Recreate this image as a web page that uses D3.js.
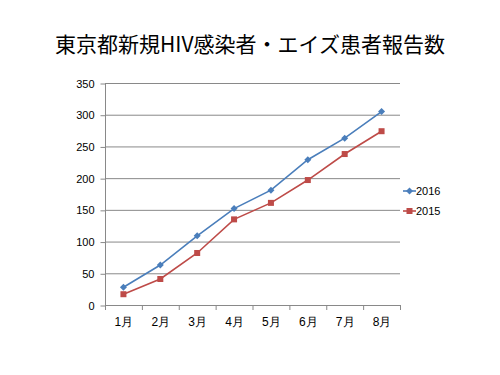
<!DOCTYPE html>
<html>
<head>
<meta charset="utf-8">
<script src="https://cdn.jsdelivr.net/npm/d3@7"></script>
<style>
  body { margin: 0; background: #fff; }
  svg { display: block; font-family: "Noto Sans CJK JP", "DejaVu Sans", sans-serif; }
</style>
</head>
<body>
<div id="chart"></div>
<script>
var months = ['1月', '2月', '3月', '4月', '5月', '6月', '7月', '8月']
var values2016 = [28, 63, 109, 152, 181, 229, 263, 305]
var values2015 = [17, 41, 82, 135, 161, 197, 238, 274]
var yTicks = [0, 50, 100, 150, 200, 250, 300, 350]

;(function() {
  var
    WIDTH = 500,
    HEIGHT = 375,
    LEFT = 105,
    RIGHT = 400,
    TOP = 83,
    BOTTOM = 305

  var series = [
    { name: '2016', values: values2016, color: '#4a7ebb', shape: 'diamond' },
    { name: '2015', values: values2015, color: '#be4b48', shape: 'square' }
  ]

  var svg = d3.select('#chart').append('svg')
    .attr('width', WIDTH)
    .attr('height', HEIGHT)

  svg.append('text')
    .text('東京都新規HIV感染者・エイズ患者報告数')
    .attr('x', 250)
    .attr('y', 52)
    .attr('text-anchor', 'middle')
    .attr('font-size', 21)
    .attr('fill', '#000')

  var x = d3.scaleBand().domain(months).range([LEFT, RIGHT])
  var y = d3.scaleLinear().domain([0, 350]).range([BOTTOM, TOP])

  // grid
  svg.append('g')
    .selectAll('line')
    .data(yTicks.filter(function(d) { return d > 0 }))
    .enter().append('line')
    .attr('x1', LEFT).attr('x2', RIGHT)
    .attr('y1', function(d) { return y(d) + .5 })
    .attr('y2', function(d) { return y(d) + .5 })
    .attr('stroke', '#898989')
    .attr('stroke-width', 1)

  var yAxis = svg.append('g')
    .attr('transform', 'translate(' + (LEFT + .5) + ',0.5)')
    .call(d3.axisLeft(y).tickValues(yTicks).tickSize(5).tickPadding(6))
  yAxis.select('.domain').attr('stroke', '#898989').attr('d', 'M0,' + TOP + 'V' + BOTTOM)
  yAxis.selectAll('.tick line').attr('stroke', '#898989')
  yAxis.selectAll('text').attr('font-size', 11).attr('fill', '#000')
    .attr('font-family', '"Liberation Sans", Arial, sans-serif')

  var xAxis = svg.append('g')
    .attr('transform', 'translate(0.5,' + (BOTTOM + .5) + ')')
    .call(d3.axisBottom(x).tickSize(0).tickPadding(12))
  xAxis.select('.domain').attr('stroke', '#898989').attr('d', 'M' + LEFT + ',0H' + RIGHT)
  xAxis.selectAll('text').attr('font-size', 12).attr('fill', '#000')

  // band boundary ticks
  svg.append('g')
    .selectAll('line')
    .data(months.concat(['end']))
    .enter().append('line')
    .attr('x1', function(d, i) { return LEFT + i * x.step() + .5 })
    .attr('x2', function(d, i) { return LEFT + i * x.step() + .5 })
    .attr('y1', BOTTOM).attr('y2', BOTTOM + 5)
    .attr('stroke', '#898989')

  var line = d3.line()
    .x(function(d, i) { return x(months[i]) + x.bandwidth() / 2 })
    .y(function(d) { return y(d) })

  function marker(g, s, cx, cy) {
    if (s.shape === 'diamond') {
      g.append('path')
        .attr('d', 'M' + cx + ',' + (cy - 3.5) + 'L' + (cx + 3.5) + ',' + cy + 'L' + cx + ',' + (cy + 3.5) + 'L' + (cx - 3.5) + ',' + cy + 'Z')
        .attr('fill', s.color)
    } else {
      g.append('rect')
        .attr('x', cx - 3).attr('y', cy - 3)
        .attr('width', 6).attr('height', 6)
        .attr('fill', s.color)
    }
  }

  series.forEach(function(s) {
    var g = svg.append('g')
    g.append('path')
      .datum(s.values)
      .attr('d', line)
      .attr('fill', 'none')
      .attr('stroke', s.color)
      .attr('stroke-width', 1.6)
    s.values.forEach(function(v, i) {
      marker(g, s, x(months[i]) + x.bandwidth() / 2, y(v))
    })
  })

  // legend
  var legend = svg.append('g')
  series.forEach(function(s, i) {
    var ly = 191 + i * 20
    legend.append('line')
      .attr('x1', 403).attr('x2', 416)
      .attr('y1', ly).attr('y2', ly)
      .attr('stroke', s.color).attr('stroke-width', 1.6)
    marker(legend, s, 409.5, ly)
    legend.append('text')
      .text(s.name)
      .attr('x', 416).attr('y', ly)
      .attr('dy', '0.35em')
      .attr('font-size', 11)
      .attr('font-family', '"Liberation Sans", Arial, sans-serif')
      .attr('fill', '#000')
  })
})()
</script>
</body>
</html>
